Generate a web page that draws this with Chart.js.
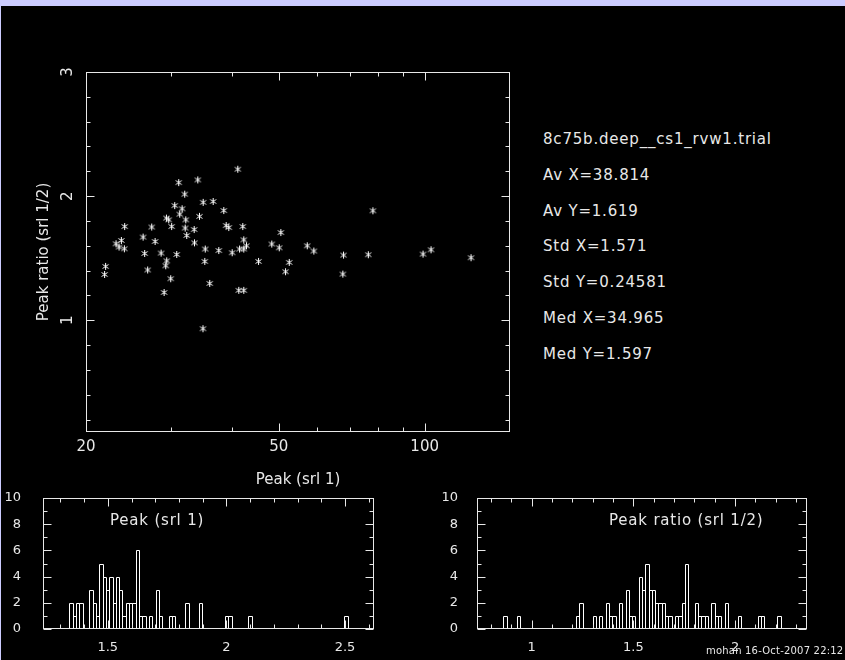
<!doctype html>
<html>
<head>
<meta charset="UTF-8" />
<script src="https://cdn.jsdelivr.net/npm/chart.js"></script>
<style>
  html, body { margin: 0; padding: 0; }
  body { width: 845px; height: 660px; background: #ccccff; position: relative; overflow: hidden;
         font-family: "DejaVu Sans", sans-serif; }
  #panel { position: absolute; left: 1px; top: 6px; width: 844px; height: 654px; background: #000; }
  canvas { position: absolute; }
  .txt { position: absolute; color: #e8e8e8; font-size: 15px; letter-spacing: 0.8px; white-space: nowrap; }
  #stats { left: 543px; top: 122px; line-height: 35.8px; }
  #stamp { left: 706px; top: 644px; font-size: 10px; letter-spacing: 0.2px; line-height: 14px; }
</style>
</head>
<body>
<div id="panel"></div>
<canvas id="scatter" width="520" height="500" style="left:0;top:0"></canvas>
<canvas id="histPeak" width="400" height="180" style="left:0;top:480px"></canvas>
<canvas id="histRatio" width="405" height="180" style="left:440px;top:480px"></canvas>

<div class="txt" id="stats">
  8c75b.deep__cs1_rvw1.trial<br>
  Av X=38.814<br>
  Av Y=1.619<br>
  Std X=1.571<br>
  Std Y=0.24581<br>
  Med X=34.965<br>
  Med Y=1.597
</div>
<div class="txt" style="left:110px;top:509px;line-height:22px">Peak (srl 1)</div>
<div class="txt" style="left:609px;top:509px;line-height:22px">Peak ratio (srl 1/2)</div>
<div class="txt" id="stamp">mohan 16-Oct-2007 22:12</div>

<script>
// scatter: peak of source 1 vs peak ratio 1/2
const peakX = [31.07, 34.02, 31.97, 34.90, 30.49, 31.58, 31.22, 29.31, 29.63, 32.13,
  34.29, 24.03, 27.33, 30.05, 32.04, 33.44, 32.28, 26.23, 27.77, 33.49,
  23.66, 23.07, 23.40, 24.00, 26.43, 28.58, 30.78, 29.35, 29.21, 21.95,
  21.85, 26.81, 29.91, 28.99, 35.24, 35.17, 34.87, 41.14, 36.60, 38.49,
  38.93, 39.42, 42.13, 50.48, 42.33, 42.88, 48.36, 50.09, 57.23, 59.06,
  37.59, 40.06, 41.48, 42.33, 45.40, 52.54, 51.62, 36.01, 41.34, 42.33,
  68.01, 67.79, 78.18, 76.49, 99.21, 103.06, 124.66];
const ratioY = [2.109, 2.131, 2.016, 1.950, 1.924, 1.898, 1.855, 1.823, 1.809, 1.809,
  1.837, 1.755, 1.751, 1.755, 1.743, 1.731, 1.683, 1.670, 1.635, 1.624,
  1.643, 1.616, 1.590, 1.576, 1.538, 1.541, 1.530, 1.479, 1.439, 1.434,
  1.369, 1.405, 1.335, 1.224, 1.574, 1.474, 0.932, 2.217, 1.957, 1.884,
  1.763, 1.747, 1.755, 1.707, 1.648, 1.600, 1.614, 1.584, 1.600, 1.558,
  1.562, 1.544, 1.574, 1.574, 1.474, 1.466, 1.391, 1.297, 1.241, 1.241,
  1.525, 1.372, 1.882, 1.528, 1.533, 1.568, 1.504];

// histogram of log10(peak): bin centres and counts (empty bins left out)
const peakBins = [1.3456, 1.3595, 1.3735, 1.3874, 1.4293, 1.4432, 1.4572, 1.4711, 1.4851, 1.4990,
  1.5130, 1.5269, 1.5409, 1.5548, 1.5688, 1.5827, 1.5967, 1.6106, 1.6246, 1.6385,
  1.6525, 1.6804, 1.7083, 1.7222, 1.7641, 1.7780, 1.8338, 1.8896, 2.0012, 2.0152,
  2.0989, 2.5034];
const peakCounts = [2, 1, 2, 2, 3, 2, 1, 5, 4, 3,
  4, 2, 4, 3, 1, 2, 2, 2, 6, 1,
  1, 1, 3, 1, 1, 1, 2, 2, 1, 1,
  1, 1];

// histogram of peak ratio
const ratioBins = [0.8698, 0.9346, 1.2264, 1.2426, 1.3075, 1.3399, 1.3723, 1.3885, 1.4047, 1.4371,
  1.4696, 1.4858, 1.5020, 1.5344, 1.5506, 1.5668, 1.5830, 1.5992, 1.6154, 1.6316,
  1.6478, 1.6640, 1.6802, 1.7127, 1.7289, 1.7451, 1.7613, 1.8100, 1.8262, 1.8424,
  1.8586, 1.8910, 1.9072, 1.9234, 1.9559, 2.0207, 2.1180, 2.1342, 2.2152];
const ratioCounts = [1, 1, 1, 2, 1, 1, 2, 1, 1, 2,
  3, 1, 1, 4, 3, 5, 3, 3, 2, 2,
  2, 1, 1, 1, 1, 2, 5, 2, 1, 1,
  1, 2, 1, 1, 2, 1, 1, 1, 1];

// tick values
const scatterXLabels = [20, 50, 100];
const scatterXMinor = [30, 40, 60, 70, 80, 90];
const scatterYLabels = [1, 2, 3];
const scatterYMinor = [0.2, 0.4, 0.6, 0.8, 1.2, 1.4, 1.6, 1.8, 2.2, 2.4, 2.6, 2.8];
const peakXLabels = [1.5, 2, 2.5];
const peakXMinor = [1.3, 1.4, 1.6, 1.7, 1.8, 1.9, 2.1, 2.2, 2.3, 2.4, 2.6];
const ratioXLabels = [1, 1.5, 2];
const ratioXMinor = [0.8, 0.9, 1.1, 1.2, 1.3, 1.4, 1.6, 1.7, 1.8, 1.9, 2.1, 2.2, 2.3];
const countLabels = [0, 2, 4, 6, 8, 10];
const countMinor = [1, 3, 5, 7, 9];

const FG = '#e8e8e8';
Chart.defaults.font.family = '"DejaVu Sans", sans-serif';
Chart.defaults.color = FG;

// pgplot-like frame with ticks pointing inwards on all four sides
const frameTicks = {
  id: 'frameTicks',
  afterDraw(chart, args, o) {
    const {ctx, chartArea: a, scales: {x, y}} = chart;
    const L = Math.round(a.left) + 0.5, R = Math.round(a.right) - 0.5;
    const T = Math.round(a.top) + 0.5, B = Math.round(a.bottom) - 0.5;
    ctx.save();
    ctx.strokeStyle = FG;
    ctx.lineWidth = 1;
    ctx.strokeRect(L, T, R - L, B - T);
    ctx.beginPath();
    const xt = (vals, len) => vals.forEach(v => {
      const p = Math.round(x.getPixelForValue(v)) + 0.5;
      ctx.moveTo(p, B); ctx.lineTo(p, B - len);
      ctx.moveTo(p, T); ctx.lineTo(p, T + len);
    });
    const yt = (vals, len) => vals.forEach(v => {
      const p = Math.round(y.getPixelForValue(v)) + 0.5;
      ctx.moveTo(L, p); ctx.lineTo(L + len, p);
      ctx.moveTo(R, p); ctx.lineTo(R - len, p);
    });
    xt(o.xMajor, 8); xt(o.xMinor, 4);
    yt(o.yMajor, 8); yt(o.yMinor, 4);
    ctx.stroke();
    ctx.restore();
  }
};

// histogram outline: adjacent bins share one edge
const outline = {
  id: 'outline',
  afterDatasetsDraw(chart) {
    const ctx = chart.ctx;
    ctx.save();
    ctx.strokeStyle = '#ffffff';
    ctx.lineWidth = 1;
    ctx.beginPath();
    chart.getDatasetMeta(0).data.forEach(el => {
      const p = el.getProps(['x', 'y', 'base', 'width'], true);
      const l = Math.round(p.x - p.width / 2) + 0.5, r = Math.round(p.x + p.width / 2) + 0.5;
      const t = Math.round(p.y) + 0.5, b = Math.round(p.base) - 0.5;
      ctx.moveTo(l, b); ctx.lineTo(l, t); ctx.lineTo(r, t); ctx.lineTo(r, b);
    });
    ctx.stroke();
    ctx.restore();
  }
};

// asterisk marker
const star = document.createElement('canvas');
star.width = 9; star.height = 9;
const sc = star.getContext('2d');
sc.strokeStyle = '#ffffff';
sc.lineWidth = 1;
sc.beginPath();
sc.moveTo(4.5, 1); sc.lineTo(4.5, 8);
sc.moveTo(1.5, 2.5); sc.lineTo(7.5, 6.5);
sc.moveTo(1.5, 6.5); sc.lineTo(7.5, 2.5);
sc.stroke();

const setTicks = vals => s => { s.ticks = vals.map(v => ({value: v})); };
const noGrid = {display: false, drawTicks: false};
// fixed axis sizes, and no extra room reserved for the end labels
const fixX = h => s => { s.height = h; s.paddingLeft = 0; s.paddingRight = 0; };
const fixY = w => s => { s.width = w; s.paddingTop = 0; s.paddingBottom = 0; };

new Chart(document.getElementById('scatter'), {
  type: 'scatter',
  data: {
    datasets: [{
      data: peakX.map((v, i) => ({x: v, y: ratioY[i]})),
      pointStyle: star,
      pointRadius: 4,
      pointHoverRadius: 4
    }]
  },
  options: {
    responsive: false,
    animation: false,
    events: [],
    layout: {padding: {left: 0, top: 72, right: 10, bottom: 0}},
    plugins: {
      legend: {display: false},
      tooltip: {enabled: false},
      frameTicks: {xMajor: scatterXLabels, xMinor: scatterXMinor, yMajor: scatterYLabels, yMinor: scatterYMinor}
    },
    scales: {
      x: {
        type: 'logarithmic', min: 20, max: 150,
        grid: noGrid, border: {display: false},
        afterBuildTicks: setTicks(scatterXLabels),
        ticks: {padding: 6, font: {size: 15}, maxRotation: 0, callback: v => String(v)},
        title: {display: true, text: 'Peak (srl 1)', font: {size: 15}, padding: {top: 0, bottom: 11}},
        afterFit: fixX(68)
      },
      y: {
        min: 0.1, max: 3,
        grid: noGrid, border: {display: false},
        afterBuildTicks: setTicks(scatterYLabels),
        ticks: {padding: 13, font: {size: 15}, minRotation: 90, maxRotation: 90, crossAlign: 'center',
                callback: v => String(v)},
        title: {display: true, text: 'Peak ratio (srl 1/2)', font: {size: 15}, padding: {top: 35, bottom: 0}},
        afterFit: fixY(86)
      }
    }
  },
  plugins: [frameTicks]
});

function histogram(id, bins, counts, xmin, xmax, xLabels, xMinor, yWidth, padRight, yPad) {
  return new Chart(document.getElementById(id), {
    type: 'bar',
    data: {
      datasets: [{
        data: bins.map((v, i) => ({x: v, y: counts[i]})),
        backgroundColor: 'rgba(0,0,0,0)',
        borderWidth: 0,
        barPercentage: 1,
        categoryPercentage: 1
      }]
    },
    options: {
      responsive: false,
      animation: false,
      events: [],
      layout: {padding: {left: 0, top: 18, right: padRight, bottom: 0}},
      plugins: {
        legend: {display: false},
        tooltip: {enabled: false},
        frameTicks: {xMajor: xLabels, xMinor: xMinor, yMajor: countLabels, yMinor: countMinor}
      },
      scales: {
        x: {
          type: 'linear', min: xmin, max: xmax, offset: false,
          grid: noGrid, border: {display: false},
          afterBuildTicks: setTicks(xLabels),
          ticks: {padding: 11, font: {size: 13}, maxRotation: 0, callback: v => String(v)},
          afterFit: fixX(31)
        },
        y: {
          min: 0, max: 10,
          grid: noGrid, border: {display: false},
          afterBuildTicks: setTicks(countLabels),
          ticks: {padding: yPad, font: {size: 13}, callback: v => String(v)},
          afterFit: fixY(yWidth)
        }
      }
    },
    plugins: [frameTicks, outline]
  });
}

histogram('histPeak', peakBins, peakCounts, 1.227, 2.622, peakXLabels, peakXMinor, 43, 26, 22);
histogram('histRatio', ratioBins, ratioCounts, 0.732, 2.353, ratioXLabels, ratioXMinor, 37, 38, 19);
</script>
</body>
</html>
